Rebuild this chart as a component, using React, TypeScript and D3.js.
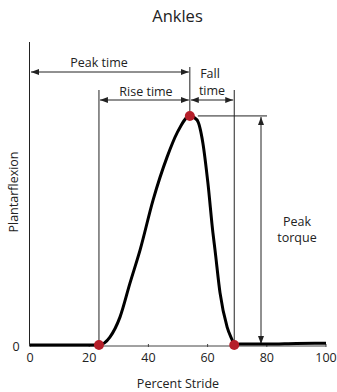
import React from "react";
import * as d3 from "d3";

const strideX = [0, 10, 20, 23.3, 27.0, 30.4, 33.8, 37.2, 41.6, 46.3, 49.7, 54.0, 56.4, 58.4, 60.1, 61.8, 62.5, 64.2, 66.6, 68.6, 69.0, 70.9, 80, 90, 100];
const torqueY = [0, 0, 0, 0, 2.6, 9.2, 20.5, 31.4, 47.9, 62.0, 70.0, 75.6, 74.3, 66.7, 53.5, 37.0, 31.4, 17.2, 5.9, 1.0, 0, 0.3, 0.3, 0.5, 0.6];
const xTicks = [0, 20, 40, 60, 80, 100];
const yTicks = [0];
const eventX = [23.3, 54.0, 69.0]; // rise start, peak, fall end
const eventY = [0, 75.6, 0];
const title = "Ankles";
const xLabel = "Percent Stride";
const yLabel = "Plantarflexion";

const W = 337, H = 392;
const FONT = "'Open Sans', 'Noto Sans', sans-serif";
const FS = 12.5;

export default function App() {
  const x = d3.scaleLinear().domain([0, 100]).range([30, 326]);
  const y = d3.scaleLinear().domain([0, 100]).range([345, 42]);
  const pts = strideX.map((v, i) => [v, torqueY[i]] as [number, number]);
  const line = d3.line<[number, number]>().x(d => x(d[0])).y(d => y(d[1])).curve(d3.curveMonotoneX);

  const riseX = x(eventX[0]);
  const peakX = x(eventX[1]);
  const fallX = x(eventX[2]);
  const peakY = y(eventY[1]);
  const zeroY = y(0);
  const ann = "#222";
  const torqueX = 261;

  return (
    <svg width={W} height={H} style={{ position: "absolute", left: 0, top: 0 }} fontFamily={FONT}>
      <defs>
        <marker id="arr" viewBox="0 0 8 6" refX="8" refY="3" markerWidth="8" markerHeight="6" orient="auto-start-reverse" markerUnits="userSpaceOnUse">
          <path d="M0,0 L8,3 L0,6 Z" fill={ann} />
        </marker>
      </defs>
      <rect width={W} height={H} fill="#fff" />
      <text x={177.5} y={22} textAnchor="middle" fontSize={16.5} fill="#222">{title}</text>

      {/* axes */}
      <line x1={x(0) - 0.5} x2={x(0) - 0.5} y1={42} y2={zeroY + 1} stroke="#222" strokeWidth={1} />
      <line x1={x(0)} x2={x(100)} y1={zeroY + 1} y2={zeroY + 1} stroke="#444" strokeWidth={1} />
      {xTicks.map(t => (
        <g key={t}>
          <line x1={x(t)} x2={x(t)} y1={zeroY - 1} y2={zeroY + 2} stroke="#444" strokeWidth={1} />
          <text x={x(t)} y={362} textAnchor="middle" fontSize={FS} fill="#222">{t}</text>
        </g>
      ))}
      {yTicks.map(t => (
        <text key={t} x={16} y={y(t) + 6} textAnchor="middle" fontSize={FS} fill="#222">{t}</text>
      ))}
      <text x={178} y={388} textAnchor="middle" fontSize={FS} fill="#222">{xLabel}</text>
      <text transform={`translate(18,192) rotate(-90)`} textAnchor="middle" fontSize={FS} fill="#222">{yLabel}</text>

      {/* annotation guides */}
      <line x1={riseX} x2={riseX} y1={90} y2={zeroY} stroke={ann} strokeWidth={1} />
      <line x1={peakX} x2={peakX} y1={67} y2={peakY} stroke={ann} strokeWidth={1} />
      <line x1={fallX} x2={fallX} y1={90} y2={zeroY} stroke={ann} strokeWidth={1} />
      <line x1={peakX + 8} x2={267} y1={peakY} y2={peakY} stroke={ann} strokeWidth={1} />

      <line x1={x(0) + 1} x2={peakX - 1} y1={72} y2={72} stroke={ann} strokeWidth={1} markerStart="url(#arr)" markerEnd="url(#arr)" />
      <text x={99} y={67} textAnchor="middle" fontSize={FS} fill="#222">Peak time</text>

      <line x1={riseX + 1} x2={peakX - 1} y1={100} y2={100} stroke={ann} strokeWidth={1} markerStart="url(#arr)" markerEnd="url(#arr)" />
      <text x={146} y={96} textAnchor="middle" fontSize={FS} fill="#222">Rise time</text>

      <line x1={peakX + 1} x2={fallX - 1} y1={100} y2={100} stroke={ann} strokeWidth={1} markerStart="url(#arr)" markerEnd="url(#arr)" />
      <text x={210} y={78} textAnchor="middle" fontSize={FS} fill="#222">Fall</text>
      <text x={212} y={95} textAnchor="middle" fontSize={FS} fill="#222">time</text>

      <line x1={torqueX} x2={torqueX} y1={peakY + 1} y2={zeroY - 1} stroke={ann} strokeWidth={1} markerStart="url(#arr)" markerEnd="url(#arr)" />
      <text x={297} y={226} textAnchor="middle" fontSize={FS} fill="#222">Peak</text>
      <text x={297} y={242} textAnchor="middle" fontSize={FS} fill="#222">torque</text>

      {/* curve */}
      <path d={line(pts) || ""} fill="none" stroke="#000" strokeWidth={3} strokeLinejoin="round" />
      {eventX.map((v, i) => (
        <circle key={i} cx={x(v)} cy={y(eventY[i])} r={5} fill="#b51f2a" />
      ))}
    </svg>
  );
}
